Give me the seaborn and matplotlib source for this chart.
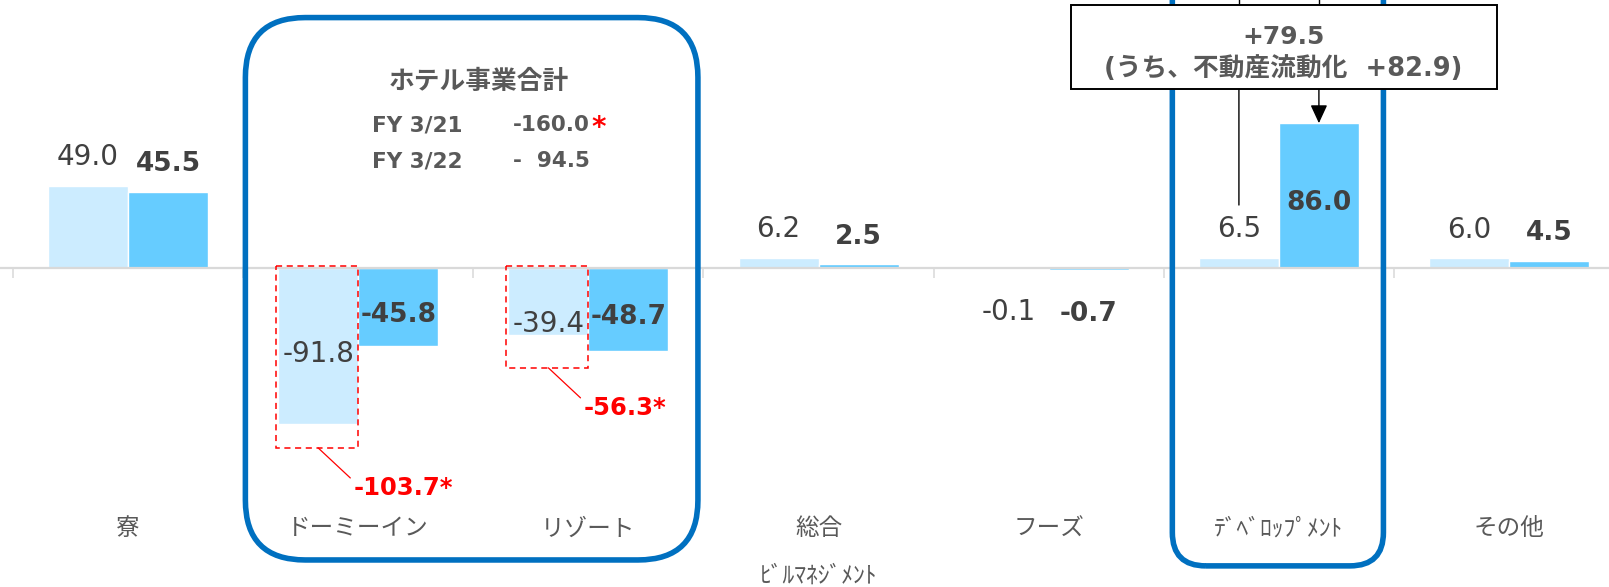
import numpy as np
import pandas as pd
import matplotlib
matplotlib.use("Agg")
import matplotlib.pyplot as plt
import seaborn as sns
from matplotlib.patches import Rectangle, FancyBboxPatch

# Segment operating income (億円)
segments = ["寮", "ドーミーイン", "リゾート", "総合\nﾋﾞﾙﾏﾈｼﾞﾒﾝﾄ", "フーズ", "ﾃﾞﾍﾞﾛｯﾌﾟﾒﾝﾄ", "その他"]
years = ["FY 3/21", "FY 3/22"]
fy21 = [49.0, -91.8, -39.4, 6.2, -0.1, 6.5, 6.0]
fy22 = [45.5, -45.8, -48.7, 2.5, -0.7, 86.0, 4.5]

# Hotel segments, FY 3/21 on the restated basis
hotel_segments = ["ドーミーイン", "リゾート"]
hotel_fy21_restated = [-103.7, -56.3]

# Development: portion coming from real-estate liquidation
real_estate_liquidation = 82.9

LIGHT = "#CCECFF"
DARK = "#66CCFF"
BLUE = "#0070C0"
RED = "#FF0000"
TXT = "#404040"
GREY = "#595959"
AXIS = "#D9D9D9"

sns.set_style("white")
plt.rcParams["font.family"] = ["DejaVu Sans", "Noto Sans CJK JP"]

df = pd.DataFrame({
    "segment": segments * 2,
    "year": [years[0]] * len(segments) + [years[1]] * len(segments),
    "value": fy21 + fy22,
})

fig = plt.figure(figsize=(16.09, 5.87), dpi=100)
ax = fig.add_axes([0, 0, 1, 1])
sns.barplot(data=df, x="segment", y="value", hue="year", order=segments,
            hue_order=years, palette=[LIGHT, DARK], saturation=1,
            width=0.695, errorbar=None, legend=False, ax=ax)

ax.set_xlabel("")
ax.set_ylabel("")
ax.set_yticks([])
for side in ("top", "right", "left"):
    ax.spines[side].set_visible(False)
ax.spines["bottom"].set_position(("data", 0))
ax.spines["bottom"].set_color(AXIS)
ax.spines["bottom"].set_linewidth(1.6)

# category labels well below the zero line, separators at the boundaries
ax.set_xticks(range(len(segments)), segments)
ax.tick_params(axis="x", which="major", length=0, pad=178.5, labelsize=17,
               labelcolor=GREY)
ax.set_xticks(np.arange(-0.5, len(segments), 1), minor=True)
ax.tick_params(axis="x", which="minor", bottom=True, length=7.2, width=1.1,
               color=AXIS, direction="out")
for lbl in ax.get_xticklabels():
    lbl.set_linespacing(2.2)

# limits last, so the tick placement cannot widen them
ax.set_xlim(-0.556, 6.434)
ax.set_ylim(-188.5, 158.9)


def put(x, y, s, dy, va, **kw):
    ax.annotate(s, (x, y), xytext=(0, dy), textcoords="offset points",
                ha="center", va=va, **kw)


# value labels
styles = [dict(fontsize=20, fontweight="normal", color=TXT),
          dict(fontsize=19, fontweight="bold", color=TXT)]
for container, st in zip(ax.containers, styles):
    for bar, v in zip(container, container.datavalues):
        x = bar.get_x() + bar.get_width() / 2
        s = f"{v:.1f}"
        if v >= 60:
            put(x, v / 2, s, -5.5, "center", **st)
        elif v >= 0:
            put(x, v, s, 14.8, "baseline", **st)
        elif v <= -40:
            put(x, v / 2, s, -5.5, "center", **st)
        elif v <= -30:
            put(x, v, s, 2, "baseline", **st)
        else:
            put(x, v, s, -37, "baseline", **st)

# restated FY 3/21 hotel figures: dashed outlines and red callouts
light_bars = ax.containers[0]
for seg, restated in zip(hotel_segments, hotel_fy21_restated):
    bar = light_bars[segments.index(seg)]
    x0, w = bar.get_x(), bar.get_width()
    bottom = restated - 2.5
    ax.add_patch(Rectangle((x0 - 0.01, 1.5), w + 0.01, bottom - 1.5,
                           fill=False, ec=RED, lw=1.1, ls=(0, (4, 3)),
                           zorder=4))
    ax.annotate(f"{restated:.1f}*", xy=(x0 + w / 2, bottom),
                xytext=(25.5, -29), textcoords="offset points",
                ha="left", va="center", fontsize=17.5, fontweight="bold",
                color=RED,
                arrowprops=dict(arrowstyle="-", color=RED, lw=0.9,
                                shrinkA=0, shrinkB=0, relpos=(0, 0.8)))

# rounded frames (x radius in category units, aspect converts to y units)
aspect = (1 / 1.69) / (1 / 230.2)


def frame(x0, x1, y0, y1, r):
    ax.add_patch(FancyBboxPatch((x0, y0), x1 - x0, y1 - y0,
                                boxstyle=f"round,pad=0,rounding_size={r}",
                                mutation_aspect=aspect, fill=False, ec=BLUE,
                                lw=4, clip_on=False, zorder=3))


frame(0.510, 2.476, -172.5, 148.5, 0.26)
frame(4.537, 5.454, -176.0, 190.0, 0.145)

# hotel business total
hotel_fy21 = sum(hotel_fy21_restated)
hotel_fy22 = sum(fy22[segments.index(s)] for s in hotel_segments)


def fmt_total(v):
    pad = "  " if abs(v) < 100 else ""
    return f"-{pad}{abs(v):.1f}"


ax.text(1.525, 110.5, "ホテル事業合計", ha="center", va="center", fontsize=18.5,
        fontweight="bold", color=GREY)
row_style = dict(fontsize=15.5, fontweight="bold", color=GREY, va="center")
ax.text(1.06, 84.9, years[0], ha="left", **row_style)
t21 = ax.text(1.672, 84.9, fmt_total(hotel_fy21), ha="left", **row_style)
ax.annotate("*", xy=(1, 1), xycoords=t21, xytext=(1, 1),
            textcoords="offset points", ha="left", va="top", fontsize=20,
            fontweight="bold", color=RED)
ax.text(1.06, 63.5, years[1], ha="left", **row_style)
ax.text(1.672, 63.5, fmt_total(hotel_fy22), ha="left", **row_style)

# development callout
dev = segments.index("ﾃﾞﾍﾞﾛｯﾌﾟﾒﾝﾄ")
dev_prev_bar = ax.containers[0][dev]
dev_now_bar = ax.containers[1][dev]
xl = dev_prev_bar.get_x() + dev_prev_bar.get_width() / 2
xd = dev_now_bar.get_x() + dev_now_bar.get_width() / 2
dev_delta = fy22[dev] - fy21[dev]

box_x0, box_x1, box_y0, box_y1 = 4.095, 5.946, 106.2, 155.9
ax.add_patch(Rectangle((box_x0, box_y0), box_x1 - box_x0, box_y1 - box_y0,
                       fc="white", ec="black", lw=1.4, zorder=5))
bx = (box_x0 + box_x1) / 2
ax.text(bx, 136.8, f"+{dev_delta:.1f}", ha="center", va="center",
        fontsize=18, fontweight="bold", color=GREY, zorder=6)
ax.text(bx, 118.3, f"(うち、不動産流動化  +{real_estate_liquidation:.1f})",
        ha="center", va="center", fontsize=18.5, fontweight="bold", color=GREY,
        zorder=6)

for x in (xl, xd):
    ax.plot([x, x], [box_y1, 170], color="black", lw=1, clip_on=False,
            zorder=4)
ax.annotate("", xy=(xl, fy21[dev]), xytext=(xl, box_y0),
            arrowprops=dict(arrowstyle="-", color="black", lw=1,
                            shrinkA=0, shrinkB=37.8))
ax.annotate("", xy=(xd, fy22[dev]), xytext=(xd, box_y0),
            arrowprops=dict(arrowstyle="-|>,head_length=0.8,head_width=0.37",
                            mutation_scale=14, color="black", lw=1,
                            shrinkA=0, shrinkB=0))

fig.savefig("out.png", dpi=100, facecolor="white")
